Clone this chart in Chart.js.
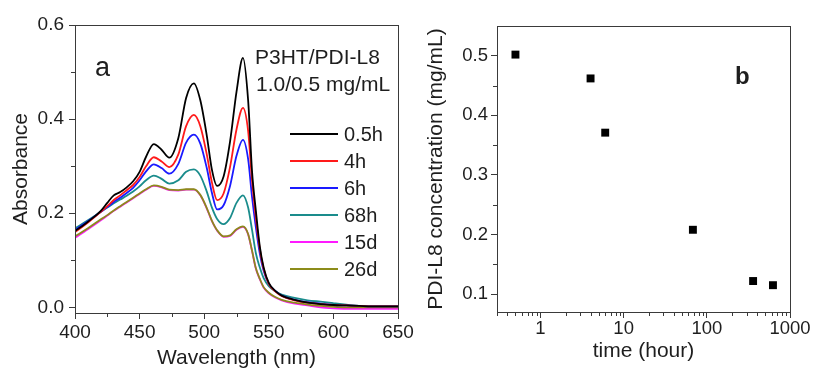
<!DOCTYPE html>
<html>
<head>
<meta charset="utf-8">
<script src="https://cdn.jsdelivr.net/npm/chart.js@4.4.0/dist/chart.umd.min.js"></script>
<style>
  html, body { margin: 0; padding: 0; background: #fff; }
  #page { position: relative; width: 813px; height: 370px; overflow: hidden; }
  .panel { position: absolute; top: 0; }
  #panelA { left: 0; }
  #panelB { left: 415px; }
</style>
</head>
<body>
<div id="page">
  <div class="panel" id="panelA"><canvas id="chartA" width="420" height="370"></canvas></div>
  <div class="panel" id="panelB"><canvas id="chartB" width="398" height="370"></canvas></div>
</div>
<script>
// panel a - absorption spectra
const wavelength = [400, 410, 420, 425, 430, 435, 440, 445, 450, 455, 461, 467, 473, 480, 486, 492, 497, 502, 506, 510,
  515, 520, 525, 530, 534, 537, 540, 543, 546, 550, 555, 560, 570, 580, 590, 600, 610, 620, 635, 650];

const abs05h = [0.162, 0.182, 0.205, 0.222, 0.238, 0.245, 0.255, 0.268, 0.288, 0.320, 0.347, 0.335, 0.318, 0.360, 0.445, 0.476, 0.440, 0.365, 0.292, 0.258,
  0.278, 0.352, 0.458, 0.530, 0.440, 0.290, 0.205, 0.130, 0.085, 0.052, 0.035, 0.025, 0.016, 0.010, 0.007, 0.005, 0.004, 0.003, 0.002, 0.002];
const abs4h = [0.160, 0.180, 0.203, 0.215, 0.228, 0.238, 0.249, 0.260, 0.277, 0.300, 0.319, 0.310, 0.298, 0.325, 0.385, 0.409, 0.385, 0.325, 0.265, 0.228,
  0.242, 0.298, 0.378, 0.424, 0.375, 0.270, 0.190, 0.125, 0.082, 0.050, 0.034, 0.024, 0.015, 0.010, 0.007, 0.005, 0.004, 0.003, 0.002, 0.002];
const abs6h = [0.165, 0.183, 0.203, 0.213, 0.224, 0.233, 0.243, 0.254, 0.270, 0.289, 0.304, 0.296, 0.284, 0.305, 0.350, 0.367, 0.348, 0.296, 0.243, 0.208,
  0.217, 0.258, 0.322, 0.356, 0.315, 0.235, 0.170, 0.115, 0.078, 0.050, 0.035, 0.025, 0.016, 0.011, 0.008, 0.005, 0.004, 0.003, 0.002, 0.002];
const abs68h = [0.168, 0.185, 0.203, 0.212, 0.221, 0.229, 0.237, 0.246, 0.257, 0.270, 0.280, 0.273, 0.263, 0.270, 0.288, 0.293, 0.280, 0.246, 0.212, 0.188,
  0.177, 0.190, 0.222, 0.238, 0.212, 0.165, 0.115, 0.085, 0.062, 0.045, 0.034, 0.027, 0.020, 0.015, 0.012, 0.009, 0.006, 0.003, 0.002, 0.002];
const abs15d = [0.148, 0.166, 0.185, 0.195, 0.205, 0.214, 0.223, 0.232, 0.241, 0.250, 0.258, 0.255, 0.249, 0.248, 0.250, 0.250, 0.238, 0.210, 0.183, 0.163,
  0.150, 0.152, 0.165, 0.171, 0.155, 0.120, 0.082, 0.060, 0.042, 0.030, 0.021, 0.015, 0.008, 0.004, 0.000, -0.002, -0.003, -0.003, -0.003, -0.003];
const abs26d = [0.151, 0.168, 0.187, 0.196, 0.206, 0.215, 0.224, 0.233, 0.242, 0.251, 0.259, 0.256, 0.250, 0.249, 0.251, 0.251, 0.239, 0.211, 0.184, 0.164,
  0.151, 0.153, 0.166, 0.172, 0.156, 0.121, 0.083, 0.061, 0.043, 0.031, 0.022, 0.016, 0.010, 0.006, 0.003, 0.001, 0.000, 0.000, 0.000, 0.000];

const seriesLabels = ['0.5h', '4h', '6h', '68h', '15d', '26d'];
const seriesValues = [abs05h, abs4h, abs6h, abs68h, abs15d, abs26d];
const seriesColors = ['#000000', '#ff1a1a', '#1a1aff', '#1a8c8c', '#ff1aff', '#8c8c1a'];
// 15d sits under 26d in the original, so draw it first
const seriesOrder = [0, 0, 0, 0, 1, 0];

const absTicks = [0, 0.2, 0.4, 0.6];
const absMinor = [0.1, 0.3, 0.5];
const wlTicks = [400, 450, 500, 550, 600, 650];
const wlMinor = [425, 475, 525, 575, 625];

// panel b - concentration vs time
const timeHours = [0.5, 4, 6, 68, 360, 624];
const concentration = [0.502, 0.462, 0.371, 0.208, 0.122, 0.115];
const concTicks = [0.1, 0.2, 0.3, 0.4, 0.5];
const concMinor = [0.15, 0.25, 0.35, 0.45];
const timeTicks = [1, 10, 100, 1000];
const timeMinor = [0.3, 0.4, 0.5, 0.6, 0.7, 0.8, 0.9, 2, 3, 4, 5, 6, 7, 8, 9, 20, 30, 40, 50, 60, 70, 80, 90, 200, 300, 400, 500, 600, 700, 800, 900];

const fontFamily = '"Liberation Sans", Arial, sans-serif';
const textColor = '#1e1e1e';
const frameColor = '#3a3a3a';

// frame, short minor ticks, free text and the little legend of panel a
const extras = {
  id: 'extras',
  afterDraw(chart, args, opts) {
    const { ctx, chartArea: a, scales } = chart;
    ctx.save();
    ctx.strokeStyle = frameColor;
    ctx.lineWidth = 1;
    ctx.strokeRect(Math.round(a.left) + 0.5, Math.round(a.top) + 0.5, Math.round(a.right - a.left), Math.round(a.bottom - a.top));

    ctx.beginPath();
    (opts.xMinor || []).forEach(v => {
      const x = Math.round(scales.x.getPixelForValue(v)) + 0.5;
      ctx.moveTo(x, a.bottom);
      ctx.lineTo(x, a.bottom + 4);
    });
    (opts.yMinor || []).forEach(v => {
      const y = Math.round(scales.y.getPixelForValue(v)) + 0.5;
      ctx.moveTo(a.left - 4, y);
      ctx.lineTo(a.left, y);
    });
    ctx.stroke();

    ctx.fillStyle = textColor;
    ctx.textBaseline = 'middle';
    ctx.textAlign = 'left';
    (opts.texts || []).forEach(t => {
      ctx.font = t.font;
      ctx.fillText(t.text, t.x, t.y);
    });

    if (opts.legend) {
      const lg = opts.legend;
      ctx.font = '20px ' + fontFamily;
      chart.data.datasets.forEach((ds, i) => {
        const y = lg.y + i * lg.step;
        ctx.strokeStyle = ds.borderColor;
        ctx.lineWidth = 2;
        ctx.beginPath();
        ctx.moveTo(lg.x, y);
        ctx.lineTo(lg.x + lg.len, y);
        ctx.stroke();
        ctx.fillStyle = textColor;
        ctx.fillText(ds.label, lg.x + lg.len + 6, y + 1);
      });
    }
    ctx.restore();
  }
};

const tickFontA = { family: fontFamily, size: 19 };
const tickFontB = { family: fontFamily, size: 18.5 };
const titleFont = { family: fontFamily, size: 21, lineHeight: 1 };

new Chart(document.getElementById('chartA'), {
  type: 'line',
  data: {
    datasets: seriesLabels.map((label, i) => ({
      label: label,
      data: wavelength.map((w, j) => ({ x: w, y: seriesValues[i][j] })),
      borderColor: seriesColors[i],
      borderWidth: 1.8,
      pointRadius: 0,
      order: seriesOrder[i],
      cubicInterpolationMode: 'monotone',
      fill: false
    }))
  },
  options: {
    responsive: false,
    animation: false,
    devicePixelRatio: 1,
    layout: { padding: { left: 0, right: 22, top: 25, bottom: 0 } },
    plugins: {
      legend: { display: false },
      tooltip: { enabled: false },
      extras: {
        xMinor: wlMinor,
        yMinor: absMinor,
        legend: { x: 290, y: 134, step: 27, len: 48 },
        texts: [
          { text: 'a', x: 95, y: 69, font: '27px ' + fontFamily },
          { text: 'P3HT/PDI-L8', x: 255, y: 58, font: '21px ' + fontFamily },
          { text: '1.0/0.5 mg/mL', x: 256, y: 85, font: '21px ' + fontFamily }
        ]
      }
    },
    scales: {
      x: {
        type: 'linear',
        min: 400, max: 650,
        afterBuildTicks: s => { s.ticks = wlTicks.map(v => ({ value: v })); },
        afterFit: s => { s.height = 57; },
        ticks: { font: tickFontA, color: textColor, padding: 2, autoSkip: false, maxRotation: 0, callback: v => String(v) },
        grid: { drawOnChartArea: false, tickLength: 6, tickColor: frameColor },
        border: { color: frameColor },
        title: { display: true, text: 'Wavelength (nm)', font: titleFont, color: textColor, padding: { top: 0, bottom: 1 } }
      },
      y: {
        min: -0.012, max: 0.6,
        afterBuildTicks: s => { s.ticks = absTicks.map(v => ({ value: v })); },
        afterFit: s => { s.width = 75; },
        ticks: { font: tickFontA, color: textColor, padding: 5, autoSkip: false, callback: v => v.toFixed(1) },
        grid: { drawOnChartArea: false, tickLength: 6, tickColor: frameColor },
        border: { color: frameColor },
        title: { display: true, text: 'Absorbance', font: titleFont, color: textColor, padding: { top: 11, bottom: 0 } }
      }
    }
  },
  plugins: [extras]
});

new Chart(document.getElementById('chartB'), {
  type: 'scatter',
  data: {
    datasets: [{
      label: 'PDI-L8',
      data: timeHours.map((t, i) => ({ x: t, y: concentration[i] })),
      pointStyle: 'rect',
      pointRadius: 5.6,
      backgroundColor: '#000000',
      borderWidth: 0,
      showLine: false
    }]
  },
  options: {
    responsive: false,
    animation: false,
    devicePixelRatio: 1,
    layout: { padding: { left: 0, right: 23, top: 26, bottom: 0 } },
    plugins: {
      legend: { display: false },
      tooltip: { enabled: false },
      extras: {
        xMinor: timeMinor,
        yMinor: concMinor,
        texts: [
          { text: 'b', x: 320, y: 77, font: 'bold 24px ' + fontFamily }
        ]
      }
    },
    scales: {
      x: {
        type: 'logarithmic',
        min: 0.3, max: 1000,
        afterBuildTicks: s => { s.ticks = timeTicks.map(v => ({ value: v })); },
        afterFit: s => { s.height = 58; },
        ticks: { font: tickFontB, color: textColor, padding: 0, autoSkip: false, maxRotation: 0, callback: v => String(v) },
        grid: { drawOnChartArea: false, tickLength: 6, tickColor: frameColor },
        border: { color: frameColor },
        title: { display: true, text: 'time (hour)', font: titleFont, color: textColor, padding: { top: 0, bottom: 8 } }
      },
      y: {
        min: 0.07, max: 0.55,
        afterBuildTicks: s => { s.ticks = concTicks.map(v => ({ value: v })); },
        afterFit: s => { s.width = 82; },
        ticks: { font: tickFontB, color: textColor, padding: 3, autoSkip: false, callback: v => v.toFixed(1) },
        grid: { drawOnChartArea: false, tickLength: 6, tickColor: frameColor },
        border: { color: frameColor },
        title: { display: true, text: 'PDI-L8 concentration (mg/mL)', font: titleFont, color: textColor, padding: { top: 11, bottom: 0 } }
      }
    }
  },
  plugins: [extras]
});
</script>
</body>
</html>
